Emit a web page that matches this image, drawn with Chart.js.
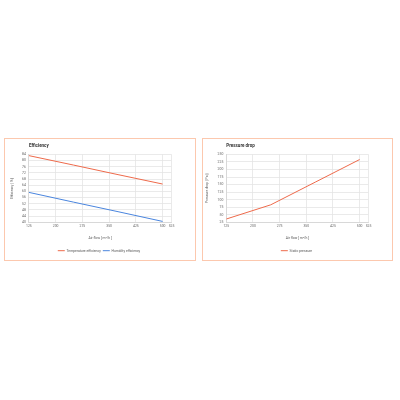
<!DOCTYPE html>
<html>
<head>
<meta charset="utf-8">
<script src="https://cdn.jsdelivr.net/npm/chart.js@4"></script>
<style>
  html, body { margin: 0; padding: 0; background: #ffffff; width: 400px; height: 400px; overflow: hidden; }
  .box { position: absolute; top: 137.5px; height: 123px; box-sizing: border-box; border: 1.5px solid #fcc8ae; background: #fff; }
  .box canvas { display: block; }
</style>
</head>
<body>
<div class="box" style="left:4px;width:191.5px;"><canvas id="c1" width="188" height="120"></canvas></div>
<div class="box" style="left:202px;width:190.5px;"><canvas id="c2" width="187" height="120"></canvas></div>
<script>
// ---- data ----
const airflow = [125, 250, 375, 500];
const temperatureEfficiency = [83.2, 77.1, 70.9, 64.8];
const humidityEfficiency = [59.4, 53.1, 46.9, 40.6];
const staticPressure = [36, 83, 158, 233];

const xTicks = [125, 200, 275, 350, 425, 500, 525];
const effTicks = [40, 44, 48, 52, 56, 60, 64, 68, 72, 76, 80, 84];
const presTicks = [25, 50, 75, 100, 125, 150, 175, 200, 225, 250];

const FONT = "'Roboto', 'Liberation Sans', sans-serif";
const RED = '#ee6a4b';
const BLUE = '#4a85de';
const GRID = '#e4e4e4';
const TICK = '#666666';

function pts(xs, ys) { return xs.map((x, i) => ({ x: x, y: ys[i] })); }
function fixedTicks(values) {
  return function (scale) { scale.ticks = values.map(v => ({ value: v })); };
}

function makeOptions(title, yTitle, yTicks, padLeft) {
  return {
    responsive: false,
    animation: false,
    devicePixelRatio: 1,
    layout: { padding: { left: 0, right: 0, top: 2, bottom: 0 } },
    plugins: {
      title: {
        display: true, text: title, align: 'start', fullSize: false,
        color: '#333', font: { family: FONT, size: 4.5, weight: 'bold' },
        padding: { top: 2, bottom: 6 }
      },
      legend: {
        position: 'bottom',
        maxHeight: 12,
        labels: {
          usePointStyle: true, pointStyle: 'line', pointStyleWidth: 7,
          color: '#555', font: { family: FONT, size: 3.4 }, padding: 2, boxHeight: 3.4
        }
      },
      tooltip: { enabled: false }
    },
    scales: {
      x: {
        type: 'linear', min: xTicks[0], max: xTicks[xTicks.length - 1],
        afterBuildTicks: fixedTicks(xTicks),
        ticks: { autoSkip: false, color: TICK, font: { family: FONT, size: 3.4 }, padding: 2, maxRotation: 0 },
        grid: { color: GRID, lineWidth: 0.8, drawTicks: false },
        border: { color: '#d8d8d8' },
        title: { display: true, text: 'Air flow [ m³/h ]', color: '#555', font: { family: FONT, size: 3.4 }, padding: { top: 5.5, bottom: 7 } }
      },
      y: {
        min: yTicks[0], max: yTicks[yTicks.length - 1],
        afterBuildTicks: fixedTicks(yTicks),
        ticks: { autoSkip: false, color: TICK, font: { family: FONT, size: 3.4 }, padding: 3 },
        grid: { color: GRID, lineWidth: 0.8, drawTicks: false },
        border: { color: '#d8d8d8' },
        title: { display: true, text: yTitle, color: '#555', font: { family: FONT, size: 3.4 }, padding: { top: 2 + padLeft, bottom: 5 } }
      },
      rightSpace: {
        type: 'linear', position: 'right', display: true,
        grid: { display: false }, border: { display: false },
        ticks: { display: false },
        afterFit: function (scale) { scale.width = 21.5; }
      }
    }
  };
}

new Chart(document.getElementById('c1'), {
  type: 'line',
  data: {
    datasets: [
      { label: 'Temperature efficiency', data: pts(airflow, temperatureEfficiency), borderColor: RED, backgroundColor: RED, borderWidth: 1, pointRadius: 0, tension: 0 },
      { label: 'Humidity efficiency', data: pts(airflow, humidityEfficiency), borderColor: BLUE, backgroundColor: BLUE, borderWidth: 1, pointRadius: 0, tension: 0 }
    ]
  },
  options: makeOptions('Efficiency', 'Efficiency [ % ]', effTicks, 3)
});

new Chart(document.getElementById('c2'), {
  type: 'line',
  data: {
    datasets: [
      { label: 'Static pressure', data: pts(airflow, staticPressure), borderColor: RED, backgroundColor: RED, borderWidth: 1, pointRadius: 0, tension: 0 }
    ]
  },
  options: makeOptions('Pressure drop', 'Pressure drop [ Pa ]', presTicks, 0.5)
});
</script>
</body>
</html>
